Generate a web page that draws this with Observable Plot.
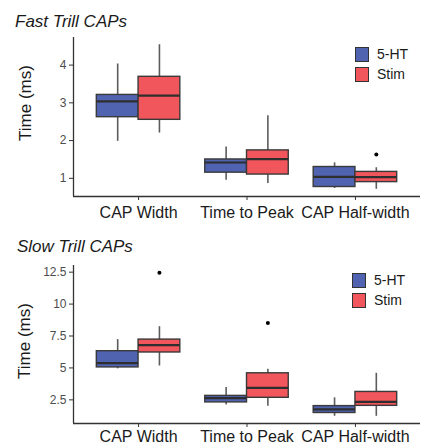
<!DOCTYPE html>
<html>
<head>
<meta charset="utf-8">
<script src="https://cdn.jsdelivr.net/npm/d3@7"></script>
<script src="https://cdn.jsdelivr.net/npm/@observablehq/plot@0.6"></script>
<style>
  html, body { margin: 0; padding: 0; background: #fff; }
  body { font-family: "Liberation Sans", Arial, sans-serif; }
  #wrap { position: relative; width: 425px; height: 447px; overflow: hidden; }
  .title { position: absolute; font-style: italic; font-size: 17px; line-height: 20px; color: #1a1a1a; white-space: nowrap; }
  .panel { position: absolute; left: 0; }
  .ylab { position: absolute; font-size: 17px; color: #1a1a1a; white-space: nowrap; transform: translate(-50%, -50%) rotate(-90deg); }
  .legend { position: absolute; font-size: 14px; color: #1a1a1a; }
  .legend .item { display: flex; align-items: center; height: 20px; }
  .legend .sw { width: 12px; height: 13px; border: 1.2px solid #333; margin-right: 8px; }
</style>
</head>
<body>
<div id="wrap"></div>
<script>
// ---------- data ----------
const categories = ["CAP Width", "Time to Peak", "CAP Half-width"];
const groups = ["5-HT", "Stim"];
const groupColors = ["#4f63b0", "#f0565b"];

const fastTitle = "Fast Trill CAPs";
const slowTitle = "Slow Trill CAPs";
const yTitle = "Time (ms)";

// [category][group]  (group order: 5-HT, Stim)
const fastWhiskerLow  = [[1.98, 2.20], [0.95, 0.86], [0.73, 0.71]];
const fastQ1          = [[2.62, 2.55], [1.15, 1.10], [0.77, 0.90]];
const fastMedian      = [[3.04, 3.19], [1.42, 1.51], [1.04, 1.03]];
const fastQ3          = [[3.21, 3.69], [1.50, 1.74], [1.30, 1.17]];
const fastWhiskerHigh = [[4.03, 4.54], [1.83, 2.66], [1.41, 1.28]];
const fastOutlierCategory = ["CAP Half-width"];
const fastOutlierGroup    = ["Stim"];
const fastOutlierValue    = [1.63];
const fastTicks = [1, 2, 3, 4];

const slowWhiskerLow  = [[4.93, 5.15], [2.09, 1.99], [1.21, 1.21]];
const slowQ1          = [[5.04, 6.21], [2.30, 2.66], [1.47, 2.03]];
const slowMedian      = [[5.38, 6.78], [2.63, 3.43], [1.75, 2.34]];
const slowQ3          = [[6.31, 7.22], [2.81, 4.58], [2.01, 3.12]];
const slowWhiskerHigh = [[7.22, 8.23], [3.46, 4.89], [2.66, 4.58]];
const slowOutlierCategory = ["CAP Width", "Time to Peak"];
const slowOutlierGroup    = ["Stim", "Stim"];
const slowOutlierValue    = [12.46, 8.52];
const slowTicks = [2.5, 5, 7.5, 10, 12.5];

// ---------- helpers ----------
const BOX_W = 0.385; // dodge width per box (in category units)

function buildRows(lo, q1, med, q3, hi) {
  const rows = [];
  categories.forEach((c, ci) => {
    groups.forEach((g, gi) => {
      const center = ci + 1;
      rows.push({
        category: c, group: g,
        x1: center + (gi - 1) * BOX_W,
        x2: center + gi * BOX_W,
        xc: center + (gi - 0.5) * BOX_W,
        lo: lo[ci][gi], q1: q1[ci][gi], med: med[ci][gi], q3: q3[ci][gi], hi: hi[ci][gi]
      });
    });
  });
  return rows;
}
function buildOutliers(cats, grps, vals) {
  return vals.map((v, i) => {
    const ci = categories.indexOf(cats[i]);
    const gi = groups.indexOf(grps[i]);
    return { value: v, xc: ci + 1 + (gi - 0.5) * BOX_W };
  });
}
function yDomainOf(rows, outliers) {
  const vals = rows.flatMap(r => [r.lo, r.hi]).concat(outliers.map(o => o.value));
  const mn = d3.min(vals), mx = d3.max(vals);
  const pad = (mx - mn) * 0.05;
  return [mn - pad, mx + pad];
}

function makePanel({rows, outliers, ticks, height, marginTop, marginBottom, labelPadding}) {
  const yDomain = yDomainOf(rows, outliers);
  const xDomain = [0.4, categories.length + 0.6];
  return Plot.plot({
    width: 425,
    height,
    marginTop,
    marginBottom,
    marginLeft: 73,
    marginRight: 5,
    style: { fontFamily: '"Liberation Sans", Arial, sans-serif', background: "transparent", overflow: "visible" },
    x: { domain: xDomain, axis: null },
    y: { domain: yDomain, axis: null },
    color: { domain: groups, range: groupColors },
    marks: [
      Plot.ruleX(rows, { x: "xc", y1: "lo", y2: "hi", stroke: "#5c5c5c", strokeWidth: 1.6 }),
      Plot.rect(rows, { x1: "x1", x2: "x2", y1: "q1", y2: "q3", fill: "group", stroke: "#3a3a3a", strokeWidth: 1.4 }),
      Plot.ruleY(rows, { x1: "x1", x2: "x2", y: "med", stroke: "#2e2e2e", strokeWidth: 2.2 }),
      Plot.dot(outliers, { x: "xc", y: "value", r: 2, fill: "#000", stroke: "none" }),
      Plot.axisY({ ticks, tickFormat: d => String(d), tickSize: 4, tickPadding: 3, fontSize: 12, fill: "#4d4d4d", stroke: "#333", label: null }),
      Plot.axisX({ ticks: categories.map((c, i) => i + 1), tickFormat: i => categories[i - 1], tickSize: 4, tickPadding: labelPadding, fontSize: 16, fill: "#1a1a1a", stroke: "#333", label: null }),
      Plot.ruleX([xDomain[0]], { stroke: "#333", strokeWidth: 1.3 }),
      Plot.ruleY([yDomain[0]], { stroke: "#333", strokeWidth: 1.3 })
    ]
  });
}

function addTitle(wrap, text, left, top) {
  const d = document.createElement("div");
  d.className = "title"; d.textContent = text;
  d.style.left = left + "px"; d.style.top = top + "px";
  wrap.appendChild(d);
}
function addYLabel(wrap, cx, cy) {
  const d = document.createElement("div");
  d.className = "ylab"; d.textContent = yTitle;
  d.style.left = cx + "px"; d.style.top = cy + "px";
  wrap.appendChild(d);
}
function addLegend(wrap, left, top) {
  const lg = document.createElement("div");
  lg.className = "legend";
  lg.style.left = left + "px"; lg.style.top = top + "px";
  groups.forEach((g, i) => {
    const it = document.createElement("div"); it.className = "item";
    const sw = document.createElement("div"); sw.className = "sw"; sw.style.background = groupColors[i];
    const tx = document.createElement("span"); tx.textContent = g;
    it.appendChild(sw); it.appendChild(tx); lg.appendChild(it);
  });
  wrap.appendChild(lg);
}

// ---------- render ----------
const wrap = document.getElementById("wrap");

const fastRows = buildRows(fastWhiskerLow, fastQ1, fastMedian, fastQ3, fastWhiskerHigh);
const fastOut = buildOutliers(fastOutlierCategory, fastOutlierGroup, fastOutlierValue);
const slowRows = buildRows(slowWhiskerLow, slowQ1, slowMedian, slowQ3, slowWhiskerHigh);
const slowOut = buildOutliers(slowOutlierCategory, slowOutlierGroup, slowOutlierValue);

const p1 = makePanel({ rows: fastRows, outliers: fastOut, ticks: fastTicks, height: 195, marginTop: 7, marginBottom: 29, labelPadding: 6 });
p1.classList.add("panel"); p1.style.top = "30px";
wrap.appendChild(p1);

const p2 = makePanel({ rows: slowRows, outliers: slowOut, ticks: slowTicks, height: 192, marginTop: 10, marginBottom: 24, labelPadding: 3 });
p2.classList.add("panel"); p2.style.top = "255px";
wrap.appendChild(p2);

addTitle(wrap, fastTitle, 15, 12);
addTitle(wrap, slowTitle, 17, 237);
addYLabel(wrap, 25.5, 103);
addYLabel(wrap, 25, 341);
addLegend(wrap, 355, 44);
addLegend(wrap, 352, 270);
</script>
</body>
</html>
